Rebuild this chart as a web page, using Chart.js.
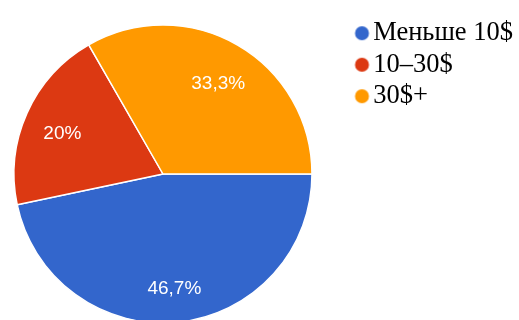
<!DOCTYPE html>
<html>
<head>
<meta charset="utf-8">
<script src="https://cdn.jsdelivr.net/npm/chart.js@4/dist/chart.umd.min.js"></script>
<style>
  html, body { margin: 0; padding: 0; background: #fff; overflow: hidden; }
  #wrap { width: 519px; height: 320px; overflow: hidden; position: relative; }
  canvas { display: block; position: absolute; left: -32px; top: 0; }
</style>
</head>
<body>
<div id="wrap"><canvas id="c" width="555" height="333"></canvas></div>
<script>
const categories = ['Меньше 10$', '10–30$', '30$+'];
const shares = [46.7, 20, 33.3];
const sliceColors = ['#3366cc', '#dc3912', '#ff9900'];

// legend marker: a round dot drawn slightly right of the marker anchor
function makeDot(color) {
  const c = document.createElement('canvas');
  c.width = 22; c.height = 18;
  const g = c.getContext('2d');
  g.fillStyle = color;
  g.beginPath();
  g.arc(11 + 2.5, 9, 7, 0, Math.PI * 2);
  g.fill();
  return c;
}
const dots = sliceColors.map(makeDot);

const sliceLabels = {
  id: 'sliceLabels',
  afterDatasetsDraw(chart) {
    const ctx = chart.ctx;
    const meta = chart.getDatasetMeta(0);
    const vals = chart.data.datasets[0].data;
    ctx.save();
    ctx.fillStyle = '#ffffff';
    ctx.font = '19px "Liberation Sans", Arial, sans-serif';
    ctx.textAlign = 'center';
    ctx.textBaseline = 'middle';
    meta.data.forEach((arc, i) => {
      const p = arc.getProps(['x', 'y', 'startAngle', 'endAngle', 'outerRadius'], true);
      const mid = (p.startAngle + p.endAngle) / 2;
      const r = p.outerRadius * 0.74;
      const txt = String(vals[i]).replace('.', ',') + '%';
      ctx.fillText(txt, p.x + Math.cos(mid) * r, p.y + Math.sin(mid) * r + 5);
    });
    ctx.restore();
  }
};

new Chart(document.getElementById('c'), {
  type: 'pie',
  data: {
    labels: categories,
    datasets: [{
      data: shares,
      backgroundColor: sliceColors,
      borderColor: '#ffffff',
      borderWidth: 1.5
    }]
  },
  options: {
    responsive: false,
    animation: false,
    rotation: 90,
    radius: 149,
    layout: { padding: { left: 4, right: 0, top: 15, bottom: 0 } },
    plugins: {
      tooltip: { enabled: false },
      legend: {
        position: 'right',
        align: 'start',
        labels: {
          usePointStyle: true,
          boxWidth: 1,
          boxHeight: 13,
          padding: 5,
          color: '#000000',
          font: { family: '"Liberation Serif", "Times New Roman", serif', size: 26.5 },
          generateLabels(chart) {
            const items = Chart.overrides.pie.plugins.legend.labels.generateLabels(chart);
            items.forEach((it, i) => { it.pointStyle = dots[i]; });
            return items;
          }
        }
      }
    }
  },
  plugins: [sliceLabels]
});
</script>
</body>
</html>
